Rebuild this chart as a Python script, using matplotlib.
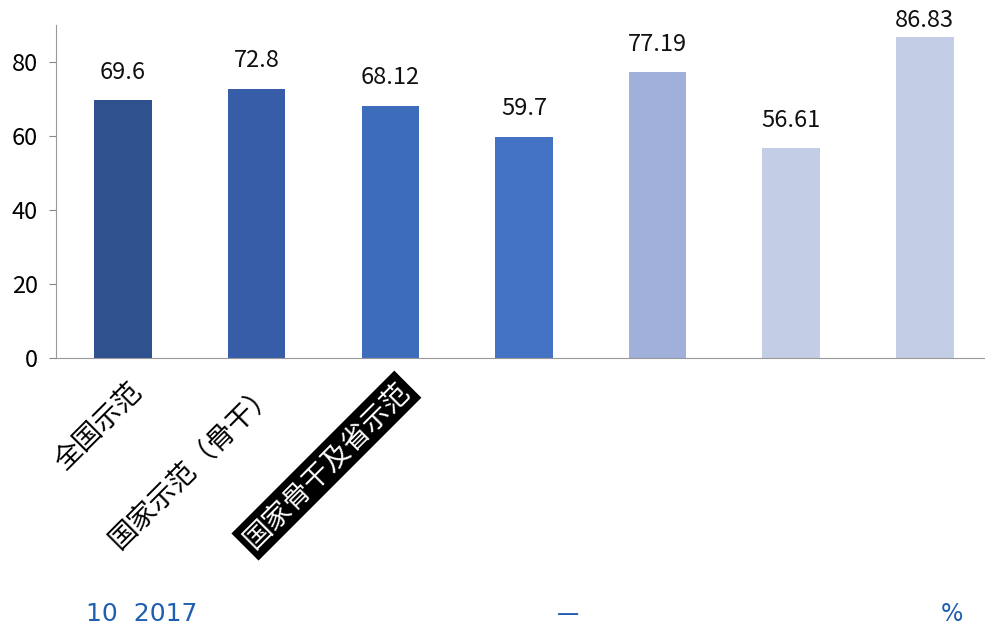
import matplotlib.pyplot as plt

plt.rcParams['font.family'] = ['Noto Sans CJK SC', 'DejaVu Sans']

categories = ['全国示范', '国家示范（骨干）', '国家骨干及省示范', '', '', '', '']
values = [69.6, 72.8, 68.12, 59.7, 77.19, 56.61, 86.83]
colors = ['#2F528F', '#375DA8', '#3D6CBB', '#4472C4', '#A0B0DA', '#C3CDE6', '#C3CDE6']
yticks = [0, 20, 40, 60, 80]

fig = plt.figure(figsize=(9.85, 6.37), dpi=100)
ax = fig.add_axes([0.057, 0.438, 0.943, 0.523])

x = range(len(values))
ax.bar(x, values, width=0.43, color=colors, zorder=2)

# 数据标签，顶部的放低一点免得出界
for i, v in zip(x, values):
    ax.text(i, min(v + 7.6, 91.3), f'{v:g}', ha='center', va='center', fontsize=17,
            color='#111111', clip_on=False)

ax.set_ylim(0, 90)
ax.set_xlim(-0.5, 6.45)
ax.set_yticks(yticks)
ax.tick_params(axis='y', labelsize=17, length=5, color='#888888', pad=8)
ax.tick_params(axis='x', length=0)
ax.set_xticks(list(x))
ax.set_xticklabels([])

for s in ['top', 'right']:
    ax.spines[s].set_visible(False)
ax.spines['left'].set_color('#999999')
ax.spines['bottom'].set_color('#999999')

# 类别标签（45度）
for i, c in enumerate(categories):
    if not c:
        continue
    kw = {}
    col = 'black'
    if i == 2:
        kw['bbox'] = dict(facecolor='black', edgecolor='none', boxstyle='square,pad=0.15')
        col = 'white'
    ax.text(i + 0.03, -5, c, rotation=45, rotation_mode='anchor', ha='right', va='top',
            fontsize=20, color=col, **kw)

# 底部说明
fig.text(0.087, 0.025, '10  2017', fontsize=18, color='#1F5FAF', family='Liberation Sans Narrow')
fig.text(0.565, 0.025, '—', fontsize=18, color='#1F5FAF')
fig.text(0.955, 0.025, '%', fontsize=17, color='#1F5FAF', family='Liberation Sans Narrow')

fig.savefig('out.png', dpi=100)
